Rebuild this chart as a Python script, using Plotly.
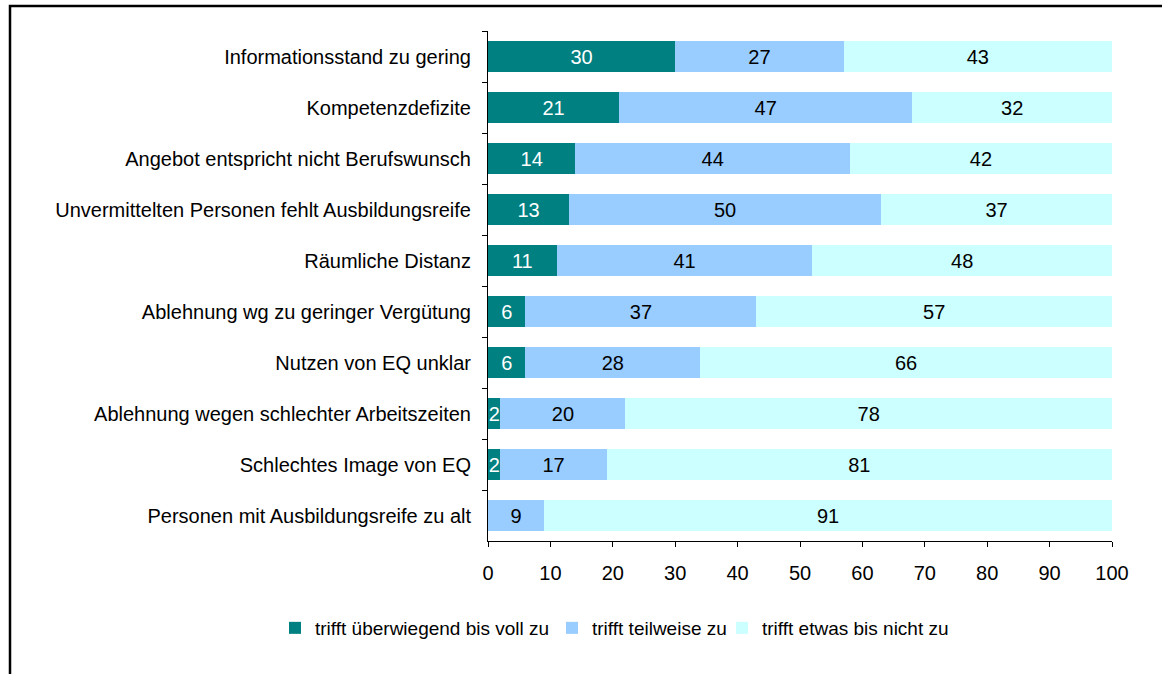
import plotly.graph_objects as go

categories = [
    "Informationsstand zu gering",
    "Kompetenzdefizite",
    "Angebot entspricht nicht Berufswunsch",
    "Unvermittelten Personen fehlt Ausbildungsreife",
    "Räumliche Distanz",
    "Ablehnung wg zu geringer Vergütung",
    "Nutzen von EQ unklar",
    "Ablehnung wegen schlechter Arbeitszeiten",
    "Schlechtes Image von EQ",
    "Personen mit Ausbildungsreife zu alt",
]
voll = [30, 21, 14, 13, 11, 6, 6, 2, 2, 0]
teilweise = [27, 47, 44, 50, 41, 37, 28, 20, 17, 9]
nicht = [43, 32, 42, 37, 48, 57, 66, 78, 81, 91]
series_names = ["trifft überwiegend bis voll zu", "trifft teilweise zu", "trifft etwas bis nicht zu"]
colors = ["#008080", "#99CCFF", "#CCFFFF"]
text_colors = ["white", "black", "black"]
x_ticks = list(range(0, 101, 10))

W, H = 1162, 674
L, R, T, B = 488, 50, 31, 133
pw, ph = W - L - R, H - T - B
FS = 20

legend_ids = ["legend", "legend2", "legend3"]
legend_px = [275, 552, 722]

fig = go.Figure()
for name, vals, col, tc, lg in zip(series_names, [voll, teilweise, nicht], colors, text_colors, legend_ids):
    fig.add_trace(go.Bar(
        y=categories, x=vals, orientation="h", name=name, legend=lg,
        marker=dict(color=col, line=dict(width=0)),
        text=[str(v) if v else "" for v in vals],
        textposition="inside", insidetextanchor="middle",
        textfont=dict(color=tc, size=FS, family="Liberation Sans"),
        constraintext="none", cliponaxis=False,
    ))

def px_x(p):
    return (p - L) / pw

def px_y(p):
    return (H - B - p) / ph

legends = {}
for lg, lx in zip(legend_ids, legend_px):
    legends[lg] = dict(orientation="h", x=px_x(lx), xanchor="left", y=px_y(628), yanchor="middle",
                       font=dict(size=19), itemwidth=30, bgcolor="rgba(0,0,0,0)")

fig.update_layout(
    barmode="stack", bargap=0.41,
    width=W, height=H,
    margin=dict(l=L, r=R, t=T, b=B),
    paper_bgcolor="white", plot_bgcolor="white",
    font=dict(family="Liberation Sans", size=FS, color="black"),
    showlegend=True,
    xaxis=dict(range=[0, 100], tickvals=x_ticks, ticks="outside", ticklen=5, tickcolor="black",
               showline=True, linecolor="black", linewidth=1, showgrid=False, zeroline=False,
               ticklabelstandoff=9),
    yaxis=dict(categoryorder="array", categoryarray=categories, autorange="reversed",
               ticks="outside", ticklen=5, tickcolor="black", tickson="boundaries",
               showline=True, linecolor="black", linewidth=1, showgrid=False,
               ticklabelstandoff=12),
    shapes=[dict(type="rect", xref="paper", yref="paper",
                 x0=px_x(10), x1=px_x(1200), y0=px_y(720), y1=px_y(6),
                 line=dict(color="black", width=2.5), fillcolor="rgba(0,0,0,0)", layer="above")],
    **legends,
)

fig.write_html("out.html", config={"displayModeBar": False},
               post_script="document.body.style.margin='0';document.body.style.overflow='hidden';")
